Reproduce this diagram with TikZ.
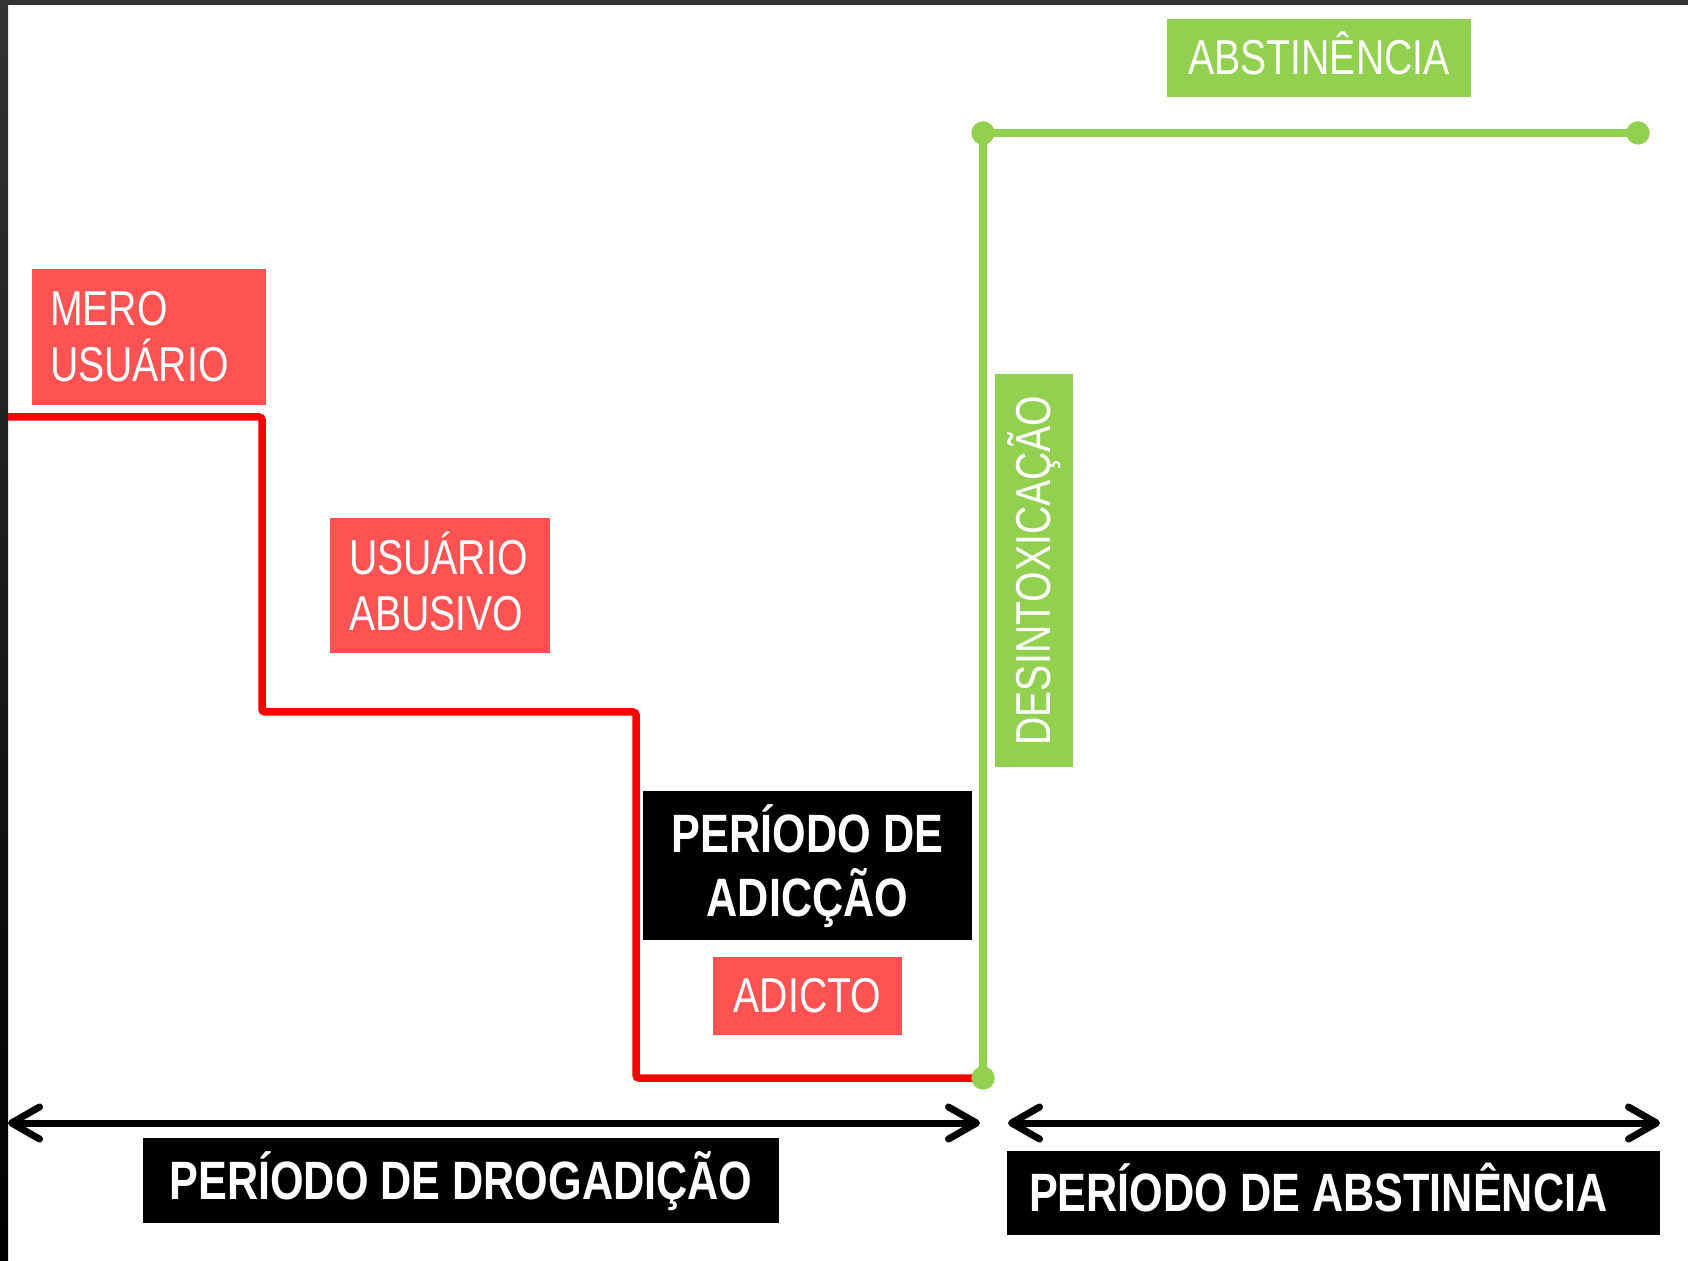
\documentclass[tikz,border=0pt]{standalone}
\usepackage{fontspec}
\usetikzlibrary{arrows.meta}
\newfontfamily\narrowsans[FakeStretch=0.80]{Liberation Sans}
\definecolor{boxred}{HTML}{FF5252}
\definecolor{linered}{HTML}{FF0000}
\definecolor{lgreen}{HTML}{92D050}
\definecolor{framegray}{HTML}{333333}
\begin{document}
\begin{tikzpicture}[x=0.5pt,y=-0.5pt,
  regtxt/.style={font=\narrowsans\fontsize{24.5}{28}\selectfont},
  boldtxt/.style={font=\narrowsans\bfseries\fontsize{27}{32}\selectfont},
  redbox/.style={fill=boxred,text=white,inner sep=0pt,regtxt},
  greenbox/.style={fill=lgreen,text=white,inner sep=0pt,regtxt},
  blackbox/.style={fill=black,text=white,inner sep=0pt,boldtxt},
  redline/.style={draw=linered,line width=3.75pt,rounded corners=1.5pt},
  greenline/.style={draw=lgreen,line width=4pt},
  gdot/.style={fill=lgreen,circle,inner sep=0pt,minimum size=11.5pt},
  span/.style={line width=3.5pt,{Straight Barb[length=14pt,width=16pt,round]}-{Straight Barb[length=14pt,width=16pt,round]}}
]
\useasboundingbox (0,0) rectangle (1688,1261);
\fill[white] (0,0) rectangle (1688,1261);

% red staircase
\coordinate (c0) at (0,417);
\coordinate (c1) at (262,417);
\coordinate (c2) at (262,712);
\coordinate (c3) at (636,712);
\coordinate (c4) at (636,1078);
\coordinate (c5) at (983,1078);
\draw[redline] (c0) -- (c1) -- (c2) -- (c3) -- (c4) -- (c5);

% green path
\node[gdot] (gb) at (983,1078) {};
\node[gdot] (gt) at (983,133) {};
\node[gdot] (gr) at (1638,133) {};
\draw[greenline] (gb.center) -- (gt.center) -- (gr.center);
\node[gdot] at (gb) {};
\node[gdot] at (gt) {};
\node[gdot] at (gr) {};

% boxes
\node[redbox, minimum width=117pt, minimum height=68pt, text width=99pt, align=flush left,
      text height=16.9pt, text depth=28pt] (mero) at (149,337) {MERO\\USUÁRIO};
\node[redbox, minimum width=110pt, minimum height=67.5pt, text width=91pt, align=flush left,
      text height=16.9pt, text depth=28pt] (abusivo) at (440,585.5) {USUÁRIO\\ABUSIVO};
\node[blackbox, minimum width=164.5pt, minimum height=74.5pt, text width=164.5pt, align=flush center,
      text height=18.6pt, text depth=32pt] (adicao) at (807.5,865.5) {PERÍODO DE\\ADICÇÃO};
\node[redbox, minimum width=94.5pt, minimum height=39pt, text height=16.9pt, text depth=0pt]
      (adicto) at (807.5,996) {ADICTO};
\node[greenbox, rotate=90, minimum width=196.5pt, minimum height=39pt, text height=16.9pt, text depth=0pt]
      (desint) at (1034,570.5) {DESINTOXICAÇÃO};
\node[greenbox, minimum width=152pt, minimum height=39pt, text height=16.9pt, text depth=0pt]
      (abst) at (1319,58) {ABSTINÊNCIA};
\node[blackbox, minimum width=318pt, minimum height=42.5pt, text height=18.6pt, text depth=0pt]
      (drog) at (461,1180.5) {PERÍODO DE DROGADIÇÃO};
\node[blackbox, minimum width=326.5pt, minimum height=42pt, text width=304.5pt, align=flush left,
      text height=18.6pt, text depth=0pt] (abstper) at (1333.5,1193) {PERÍODO DE ABSTINÊNCIA};

% span arrows
\coordinate (a1) at (8,1123);
\coordinate (a2) at (980,1123);
\coordinate (a3) at (1008,1123);
\coordinate (a4) at (1660,1123);
\draw[span] (a1) -- (a2);
\draw[span] (a3) -- (a4);

% frame
\fill[framegray] (0,0) rectangle (1688,5);
\shade[top color=framegray, bottom color=black] (0,0) rectangle (8,1261);
\end{tikzpicture}
\end{document}
